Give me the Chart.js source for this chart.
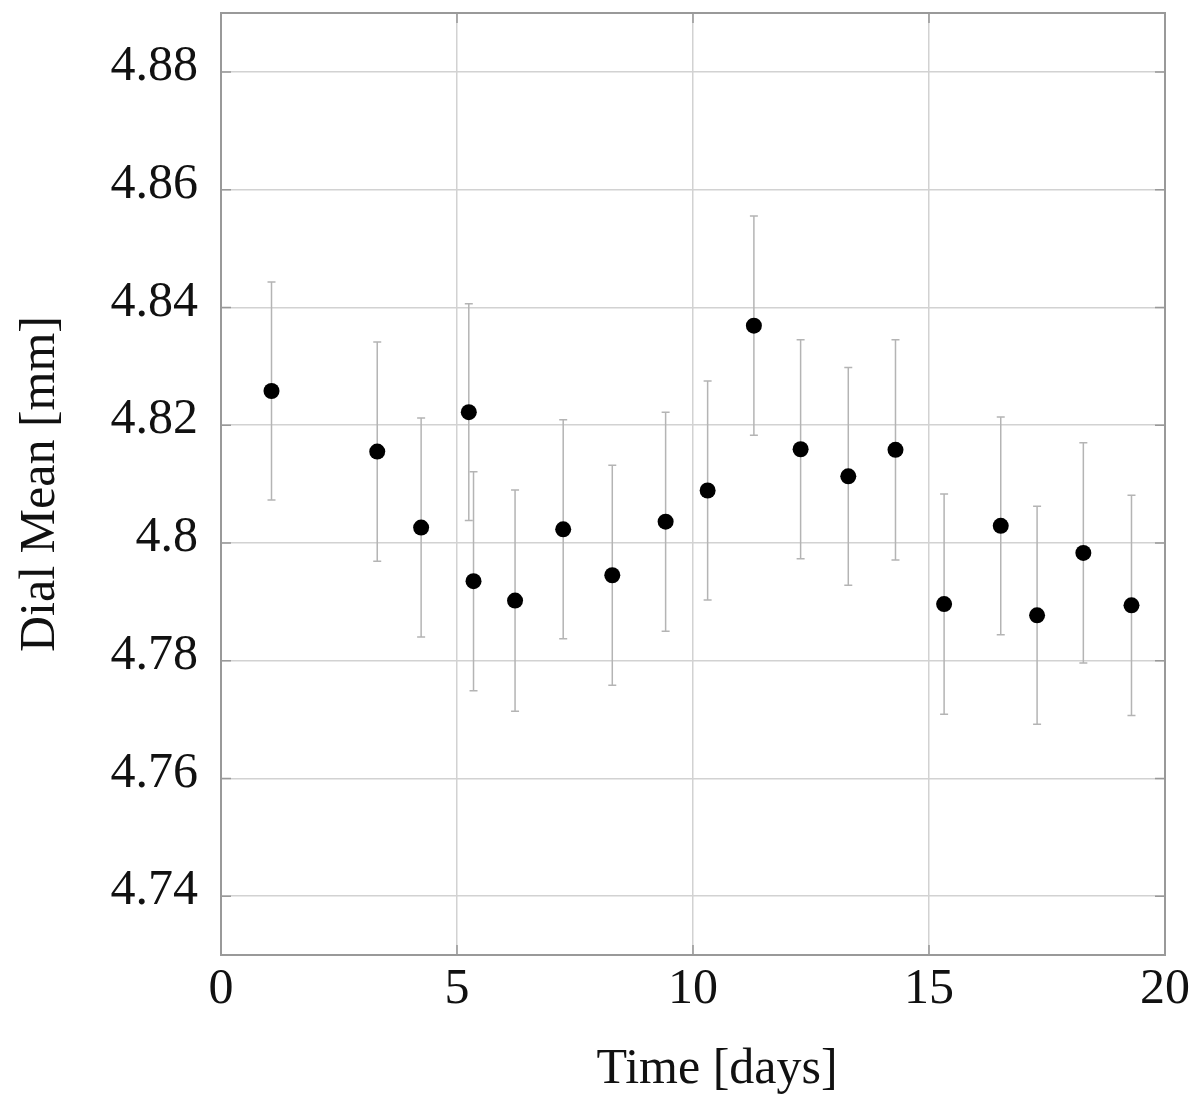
<!DOCTYPE html>
<html>
<head>
<meta charset="utf-8">
<title>Dial Mean vs Time</title>
<script src="https://cdn.jsdelivr.net/npm/chart.js@4.4.1/dist/chart.umd.min.js"></script>
<style>
    html, body { margin: 0; padding: 0; background: #fff; }
    #wrap { width: 1192px; height: 1100px; }
</style>
</head>
<body>
<div id="wrap"><canvas id="dialChart" width="1192" height="1100"></canvas></div>
<script>
// Values
const days = [1.07, 3.31, 4.24, 5.25, 5.35, 6.23, 7.25, 8.29, 9.42, 10.31,
              11.29, 12.28, 13.29, 14.29, 15.32, 16.52, 17.29, 18.27, 19.29];
const dialMeans = [4.8258, 4.8155, 4.8026, 4.8222, 4.7935, 4.7902, 4.8023, 4.7945, 4.8036, 4.8089,
                   4.8369, 4.8159, 4.8113, 4.8158, 4.7896, 4.8029, 4.7877, 4.7983, 4.7894];
const dialErrors = [0.0185, 0.0186, 0.0186, 0.0184, 0.0186, 0.0188, 0.0186, 0.0187, 0.0186, 0.0186,
                    0.0186, 0.0186, 0.0185, 0.0187, 0.0187, 0.0185, 0.0185, 0.0187, 0.0187];

const xTickValues = [0, 5, 10, 15, 20];
const yTickValues = [4.74, 4.76, 4.78, 4.80, 4.82, 4.84, 4.86, 4.88];
const yTickLabels = ['4.74', '4.76', '4.78', '4.8', '4.82', '4.84', '4.86', '4.88'];
const xTitle = 'Time [days]';
const yTitle = 'Dial Mean [mm]';

const serif = 'Liberation Serif, Times New Roman, serif';

// Vertical error bars with small caps, drawn under the points
const errorBars = {
    id: 'errorBars',
    beforeDatasetsDraw(chart) {
        const { ctx, scales: { x, y } } = chart;
        ctx.save();
        ctx.strokeStyle = '#b4b4b4';
        ctx.lineWidth = 1.5;
        dialMeans.forEach((m, i) => {
            const px = x.getPixelForValue(days[i]);
            const top = y.getPixelForValue(m + dialErrors[i]);
            const bot = y.getPixelForValue(m - dialErrors[i]);
            ctx.beginPath();
            ctx.moveTo(px, top);
            ctx.lineTo(px, bot);
            ctx.moveTo(px - 4, top);
            ctx.lineTo(px + 4, top);
            ctx.moveTo(px - 4, bot);
            ctx.lineTo(px + 4, bot);
            ctx.stroke();
        });
        ctx.restore();
    }
};

// Box around the plot with short inward tick marks on all four sides
const frame = {
    id: 'frame',
    beforeDatasetsDraw(chart) {
        const { ctx, chartArea: a, scales: { x, y } } = chart;
        const len = 10;
        ctx.save();
        ctx.strokeStyle = '#999';
        ctx.lineWidth = 1.5;
        ctx.beginPath();
        yTickValues.forEach(v => {
            const py = y.getPixelForValue(v);
            ctx.moveTo(a.left, py);
            ctx.lineTo(a.left + len, py);
            ctx.moveTo(a.right, py);
            ctx.lineTo(a.right - len, py);
        });
        xTickValues.forEach(v => {
            const px = x.getPixelForValue(v);
            ctx.moveTo(px, a.bottom);
            ctx.lineTo(px, a.bottom - len);
            ctx.moveTo(px, a.top);
            ctx.lineTo(px, a.top + len);
        });
        ctx.stroke();
        ctx.lineWidth = 2;
        ctx.strokeRect(a.left, a.top, a.right - a.left, a.bottom - a.top);
        ctx.restore();
    }
};

// x title sits a little right of the plot centre in the original
const xTitleLabel = {
    id: 'xTitleLabel',
    afterDraw(chart) {
        const { ctx, chartArea: a } = chart;
        ctx.save();
        ctx.font = '50px ' + serif;
        ctx.fillStyle = '#111';
        ctx.textAlign = 'center';
        ctx.textBaseline = 'middle';
        ctx.fillText(xTitle, (a.left + a.right) / 2 + 24, chart.height - 30);
        ctx.restore();
    }
};

new Chart(document.getElementById('dialChart'), {
    type: 'scatter',
    data: {
        datasets: [{
            label: 'Dial Mean',
            data: days.map((d, i) => ({ x: d, y: dialMeans[i] })),
            backgroundColor: '#000',
            borderWidth: 0,
            pointRadius: 8,
            pointHoverRadius: 8
        }]
    },
    options: {
        responsive: false,
        animation: false,
        devicePixelRatio: 1,
        layout: {
            padding: { top: 13, right: 27, bottom: 0, left: 0 }
        },
        plugins: {
            legend: { display: false },
            tooltip: { enabled: false }
        },
        scales: {
            x: {
                type: 'linear',
                min: 0,
                max: 20,
                afterFit: scale => {
                    scale.height = 145;
                    scale.paddingLeft = 0;
                    scale.paddingRight = 0;
                },
                afterBuildTicks: scale => {
                    scale.ticks = xTickValues.map(v => ({ value: v }));
                },
                border: { display: false },
                grid: { color: '#d2d2d2', lineWidth: 1.5, drawTicks: false },
                ticks: {
                    padding: 5,
                    color: '#111',
                    font: { family: serif, size: 50 },
                    maxRotation: 0
                },
                title: { display: false }
            },
            y: {
                type: 'linear',
                min: 4.73,
                max: 4.89,
                afterFit: scale => {
                    scale.width = 221;
                    scale.paddingTop = 0;
                    scale.paddingBottom = 0;
                },
                afterBuildTicks: scale => {
                    scale.ticks = yTickValues.map(v => ({ value: v }));
                },
                border: { display: false },
                grid: { color: '#d2d2d2', lineWidth: 1.5, drawTicks: false },
                ticks: {
                    padding: 23,
                    labelOffset: -5,
                    color: '#111',
                    font: { family: serif, size: 50 },
                    callback: value => yTickLabels[yTickValues.findIndex(v => Math.abs(v - value) < 1e-6)]
                },
                title: {
                    display: true,
                    text: yTitle,
                    color: '#111',
                    font: { family: serif, size: 50 },
                    padding: { top: 11, bottom: 0 }
                }
            }
        }
    },
    plugins: [errorBars, frame, xTitleLabel]
});
</script>
</body>
</html>
